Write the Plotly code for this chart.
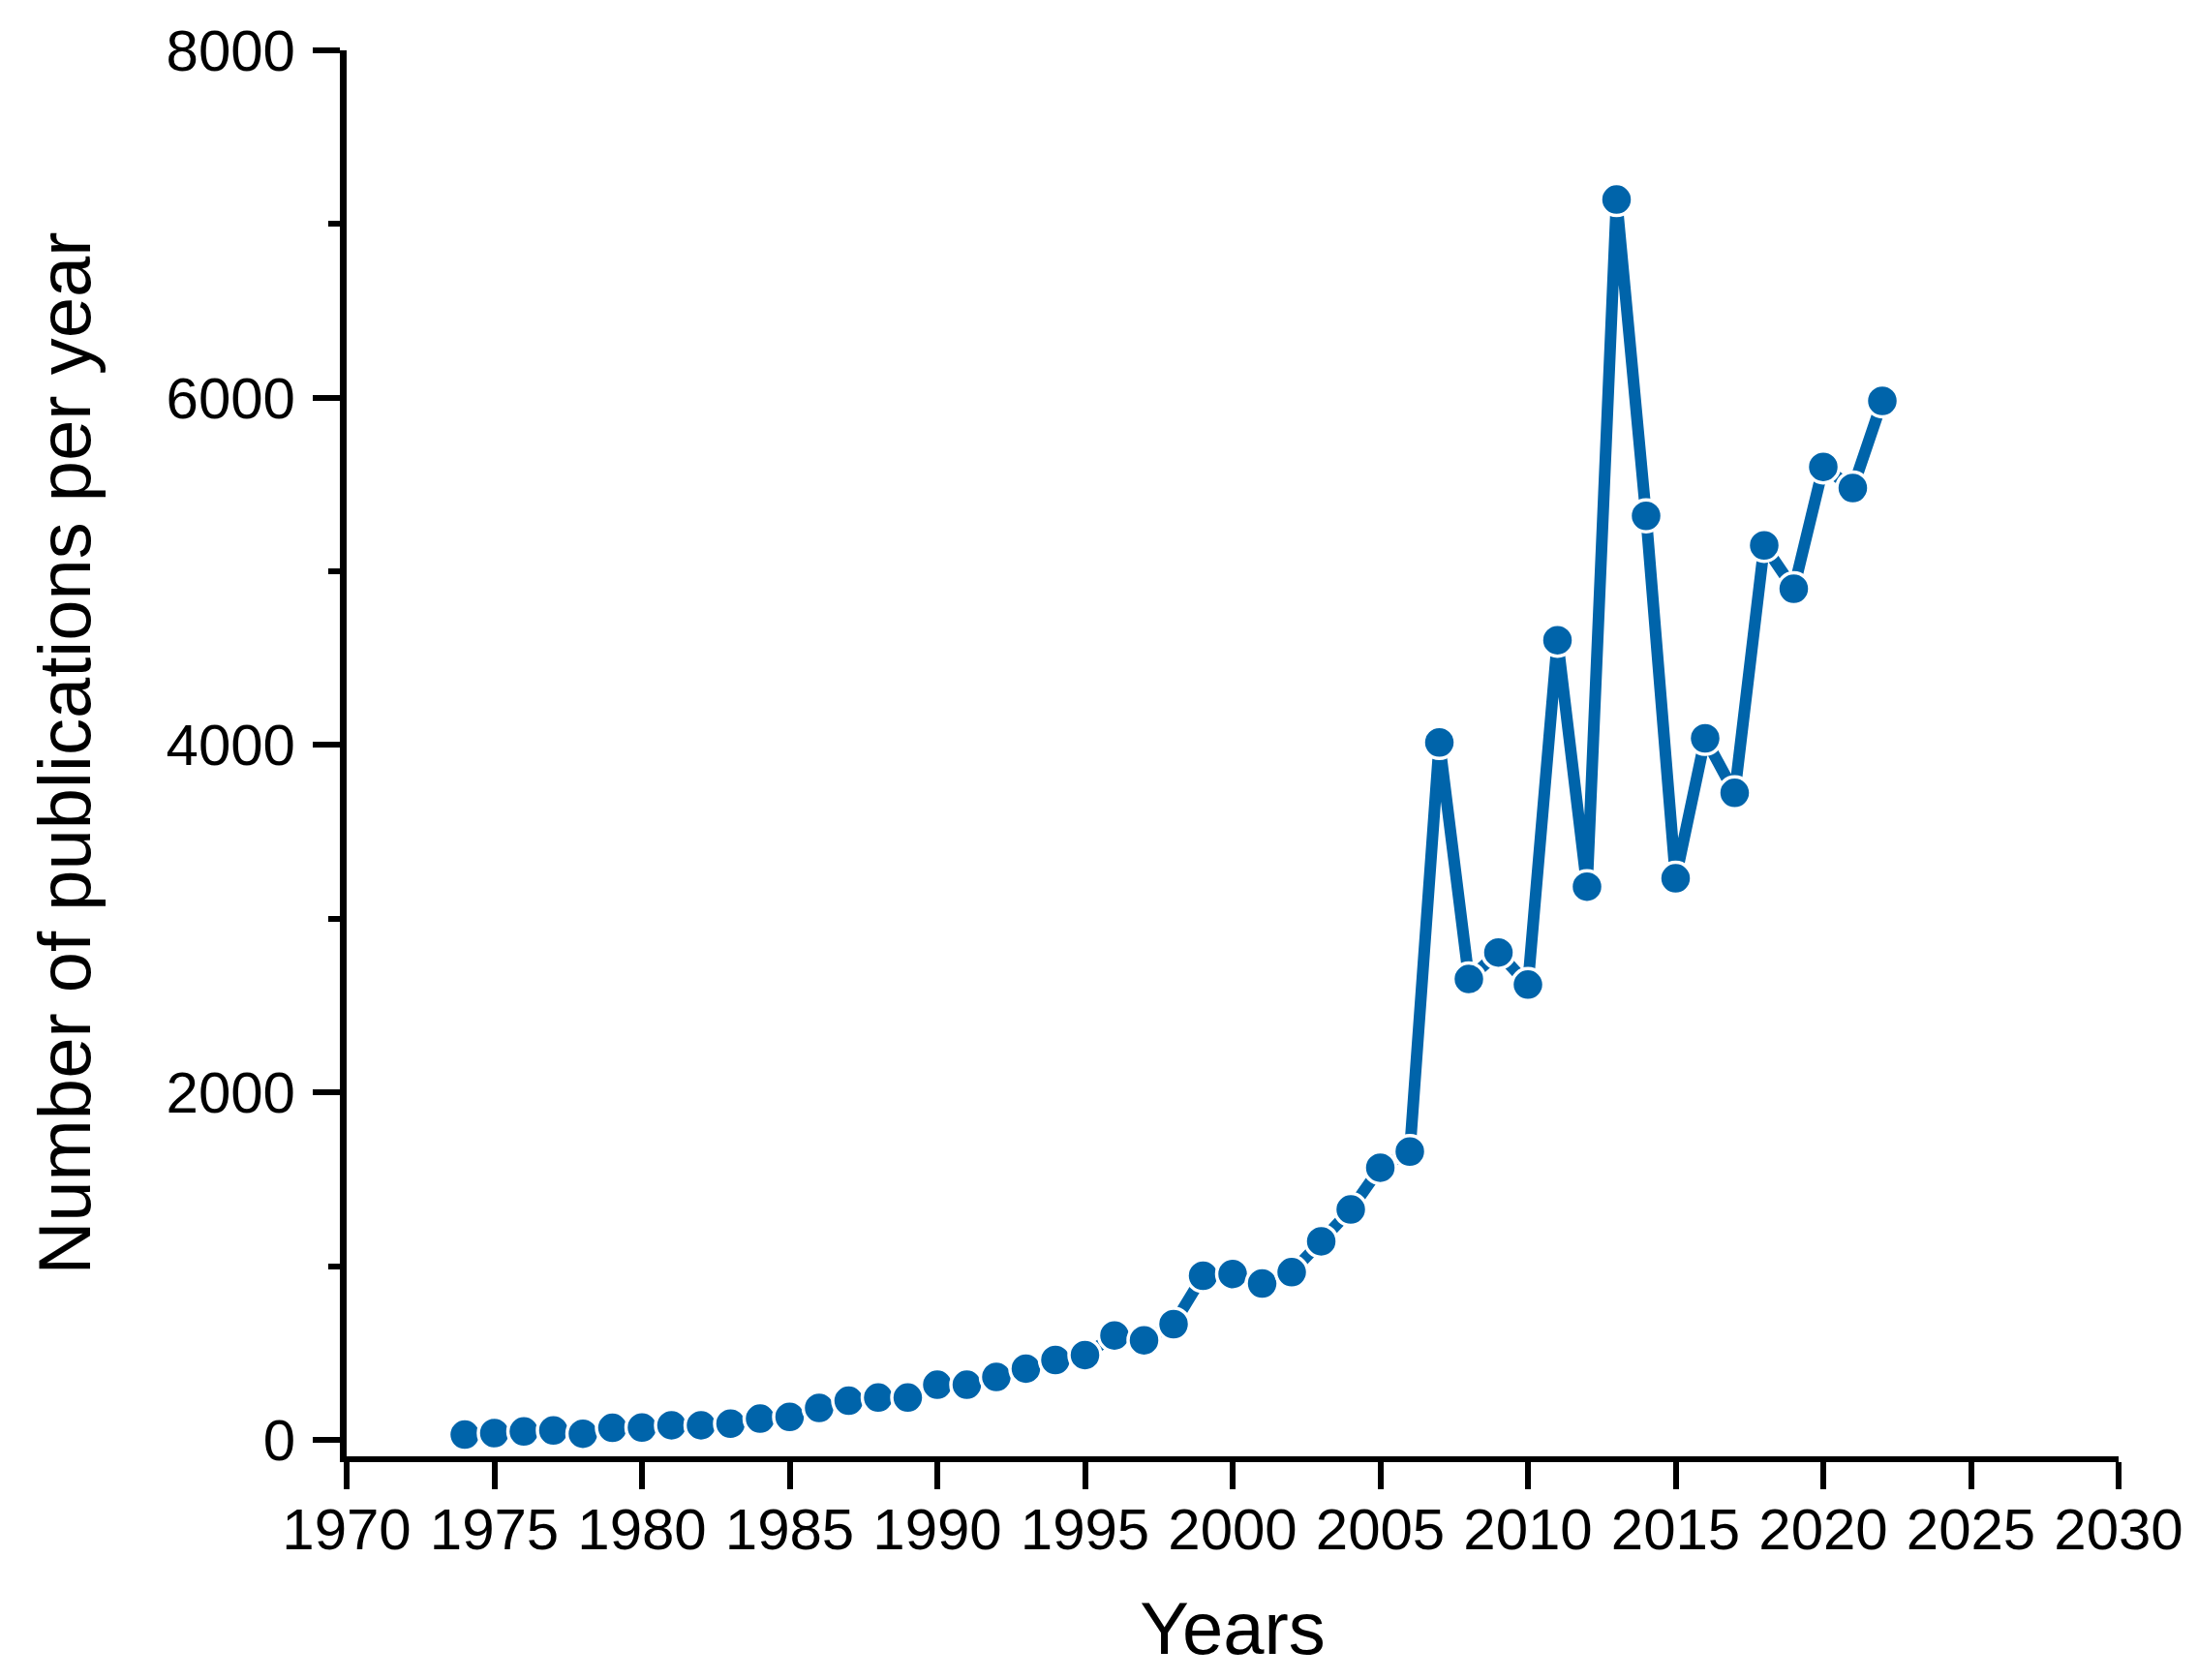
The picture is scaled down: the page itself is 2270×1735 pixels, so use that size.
import plotly.graph_objects as go

years = list(range(1974, 2023))
publications = [30, 39, 48, 54, 35, 69, 71, 84, 84, 93,
                122, 132, 184, 225, 243, 243, 317, 317, 362, 410,
                460, 488, 601, 573, 666, 945, 955, 900, 965, 1143,
                1326, 1567, 1660, 4015, 2653, 2806, 2621, 4604, 3185, 7141,
                5320, 3233, 4039, 3725, 5150, 4900, 5602, 5480, 5982]

x_ticks = list(range(1970, 2031, 5))
y_ticks = [0, 2000, 4000, 6000, 8000]

blue = "rgb(0,100,170)"
font_family = "Liberation Sans, Arial, sans-serif"

fig = go.Figure()
fig.add_trace(go.Scatter(
    x=years, y=publications, mode="lines+markers",
    line=dict(color=blue, width=12),
    marker=dict(color=blue, size=33, line=dict(color="white", width=3.5)),
    showlegend=False,
))

fig.update_layout(
    width=2270, height=1735,
    margin=dict(l=350, r=90, t=44, b=239),
    paper_bgcolor="white", plot_bgcolor="white",
    font=dict(family=font_family, color="black", size=60),
)
fig.update_xaxes(
    range=[1970, 2030], tickvals=x_ticks, ticktext=[str(v) for v in x_ticks],
    showline=True, linecolor="black", linewidth=6, mirror=False,
    ticks="outside", ticklen=28, tickwidth=6, tickcolor="black",
    ticklabelstandoff=-10,
    showgrid=False, zeroline=False,
    tickfont=dict(size=60),
    title=dict(text="Years", font=dict(size=76), standoff=45),
)
fig.update_yaxes(
    range=[-95, 8000], tickvals=y_ticks, ticktext=[str(v) for v in y_ticks],
    showline=True, linecolor="black", linewidth=7, mirror=False,
    ticks="outside", ticklen=28, tickwidth=6, tickcolor="black",
    minor=dict(dtick=1000, ticks="outside", ticklen=12, tickwidth=6, tickcolor="black", showgrid=False),
    ticklabelstandoff=6,
    showgrid=False, zeroline=False,
    tickfont=dict(size=60),
    title=dict(text="Number of publications per year", font=dict(size=76), standoff=55),
)

fig.write_html("out.html")
